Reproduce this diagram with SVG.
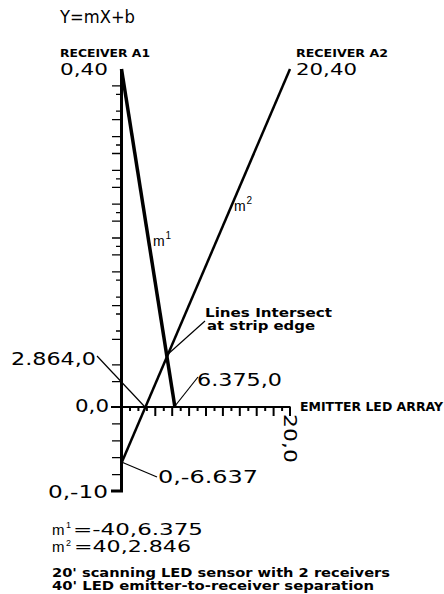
<svg xmlns="http://www.w3.org/2000/svg" width="444" height="594" viewBox="0 0 444 594">
<style>
.num{font-family:"DejaVu Sans","Liberation Sans",sans-serif;font-size:17px;fill:#000}
.lab{font-family:"DejaVu Sans","Liberation Sans",sans-serif;font-size:11.5px;font-weight:bold;fill:#000}
.mm{font-family:"Liberation Sans","DejaVu Sans",sans-serif}
.axis{stroke:#000;fill:none}
.tick{stroke:#000;stroke-width:1.3}
.xt{stroke:#000;stroke-width:2}
.call{stroke:#000;stroke-width:1.2;fill:none}
</style>
<rect width="444" height="594" fill="#fff"/>
<text class="num" x="60" y="23" textLength="75" lengthAdjust="spacingAndGlyphs">Y=mX+b</text>

<g id="axes">
  <path class="axis" stroke-width="3" d="M121.5,69 V491 H111"/>
  <path class="axis" stroke-width="2" d="M111,407 H290.5"/>
  <g id="ytick">
    <path class="tick" d="M121,85.9 h-9 M121,94.3 h-5 M121,111.2 h-5 M121,119.7 h-9 M121,136.6 h-9 M121,145 h-5 M121,153.5 h-9 M121,170.4 h-9 M121,178.8 h-5 M121,187.3 h-9 M121,204.2 h-9 M121,212.6 h-5 M121,221.1 h-9 M121,238 h-9 M121,246.4 h-5 M121,254.9 h-9 M121,271.8 h-9 M121,280.2 h-5 M121,297.1 h-5 M121,305.6 h-9 M121,314 h-5 M121,331 h-5 M121,339.4 h-9 M121,364.8 h-9 M121,381.7 h-9 M121,423.9 h-9 M121,440.8 h-9 M121,457.7 h-9 M121,474.6 h-9"/>
  </g>
  <g id="xtick">
    <path class="xt" d="M130,407 v4 M138.4,407 v4 M146.9,407 v4 M155.3,407 v9 M163.8,407 v4 M172.2,407 v9 M180.7,407 v4 M189.1,407 v9 M197.6,407 v4 M206,407 v9 M214.5,407 v4 M222.9,407 v9 M231.4,407 v4 M239.8,407 v9 M248.3,407 v4 M256.7,407 v9 M265.2,407 v4 M273.6,407 v9 M282.1,407 v4 M290,407 v9"/>
  </g>
</g>

<g id="connectors">
  <path id="line-m1" d="M121.5,69 L174.9,407" stroke="#000" stroke-width="3.5" fill="none"/>
  <path id="line-m2" d="M121.5,463 L290,69" stroke="#000" stroke-width="2.5" fill="none"/>
  <path class="call" d="M167,355 L205,321"/>
  <path class="call" d="M97,356 L145,407"/>
  <path class="call" d="M175,406 L198,377"/>
  <path class="call" d="M121.5,462 L157,477"/>
</g>

<g id="receiver-a1">
  <text class="lab" x="60" y="56.5" style="font-size:11px" textLength="90" lengthAdjust="spacingAndGlyphs">RECEIVER A1</text>
  <text class="num" x="60" y="74.5" style="font-size:16px" textLength="48" lengthAdjust="spacingAndGlyphs">0,40</text>
</g>
<g id="receiver-a2">
  <text class="lab" x="296" y="56.5" style="font-size:11px" textLength="92" lengthAdjust="spacingAndGlyphs">RECEIVER A2</text>
  <text class="num" x="296" y="74.5" style="font-size:16px" textLength="61" lengthAdjust="spacingAndGlyphs">20,40</text>
</g>
<g id="m1-label">
  <text class="num mm" x="153" y="246" style="font-size:14px">m<tspan x="165.5" dy="-7" style="font-size:10px">1</tspan></text>
</g>
<g id="m2-label">
  <text class="num mm" x="234" y="211" style="font-size:14px">m<tspan x="246.5" dy="-7" style="font-size:10px">2</tspan></text>
</g>
<g id="intersect-label">
  <text class="lab" x="205" y="317" textLength="127" lengthAdjust="spacingAndGlyphs">Lines Intersect</text>
  <text class="lab" x="207" y="330" textLength="108" lengthAdjust="spacingAndGlyphs">at strip edge</text>
</g>
<g id="x2864">
  <text class="num" x="11" y="365" textLength="85" lengthAdjust="spacingAndGlyphs">2.864,0</text>
</g>
<g id="x6375">
  <text class="num" x="197" y="386" textLength="85" lengthAdjust="spacingAndGlyphs">6.375,0</text>
</g>
<g id="origin">
  <text class="num" x="75" y="412" textLength="34" lengthAdjust="spacingAndGlyphs">0,0</text>
</g>
<g id="emitter">
  <text class="lab" x="300" y="410.5" textLength="143" lengthAdjust="spacingAndGlyphs">EMITTER LED ARRAY</text>
  <text class="num" transform="translate(284,414) rotate(90)" x="0" y="0" textLength="49" lengthAdjust="spacingAndGlyphs">20,0</text>
</g>
<g id="y-intercept">
  <text class="num" x="158" y="483" textLength="100" lengthAdjust="spacingAndGlyphs">0,-6.637</text>
</g>
<g id="ymin">
  <text class="num" x="48" y="498" textLength="60" lengthAdjust="spacingAndGlyphs">0,-10</text>
</g>
<g id="equations">
  <text class="num mm" x="52" y="534.5" style="font-size:15px">m<tspan x="66" dy="-6.5" style="font-size:9px">1</tspan></text>
  <text class="num" x="73" y="534.5" style="font-size:15px" textLength="130" lengthAdjust="spacingAndGlyphs">=-40,6.375</text>
  <text class="num mm" x="52" y="551.5" style="font-size:15px">m<tspan x="66" dy="-5.5" style="font-size:9px">2</tspan></text>
  <text class="num" x="74" y="551.5" style="font-size:15px" textLength="117" lengthAdjust="spacingAndGlyphs">=40,2.846</text>
</g>
<g id="notes">
  <text class="lab" x="52" y="577" textLength="338" lengthAdjust="spacingAndGlyphs">20' scanning LED sensor with 2 receivers</text>
  <text class="lab" x="52" y="590" textLength="322" lengthAdjust="spacingAndGlyphs">40' LED emitter-to-receiver separation</text>
</g>
</svg>
